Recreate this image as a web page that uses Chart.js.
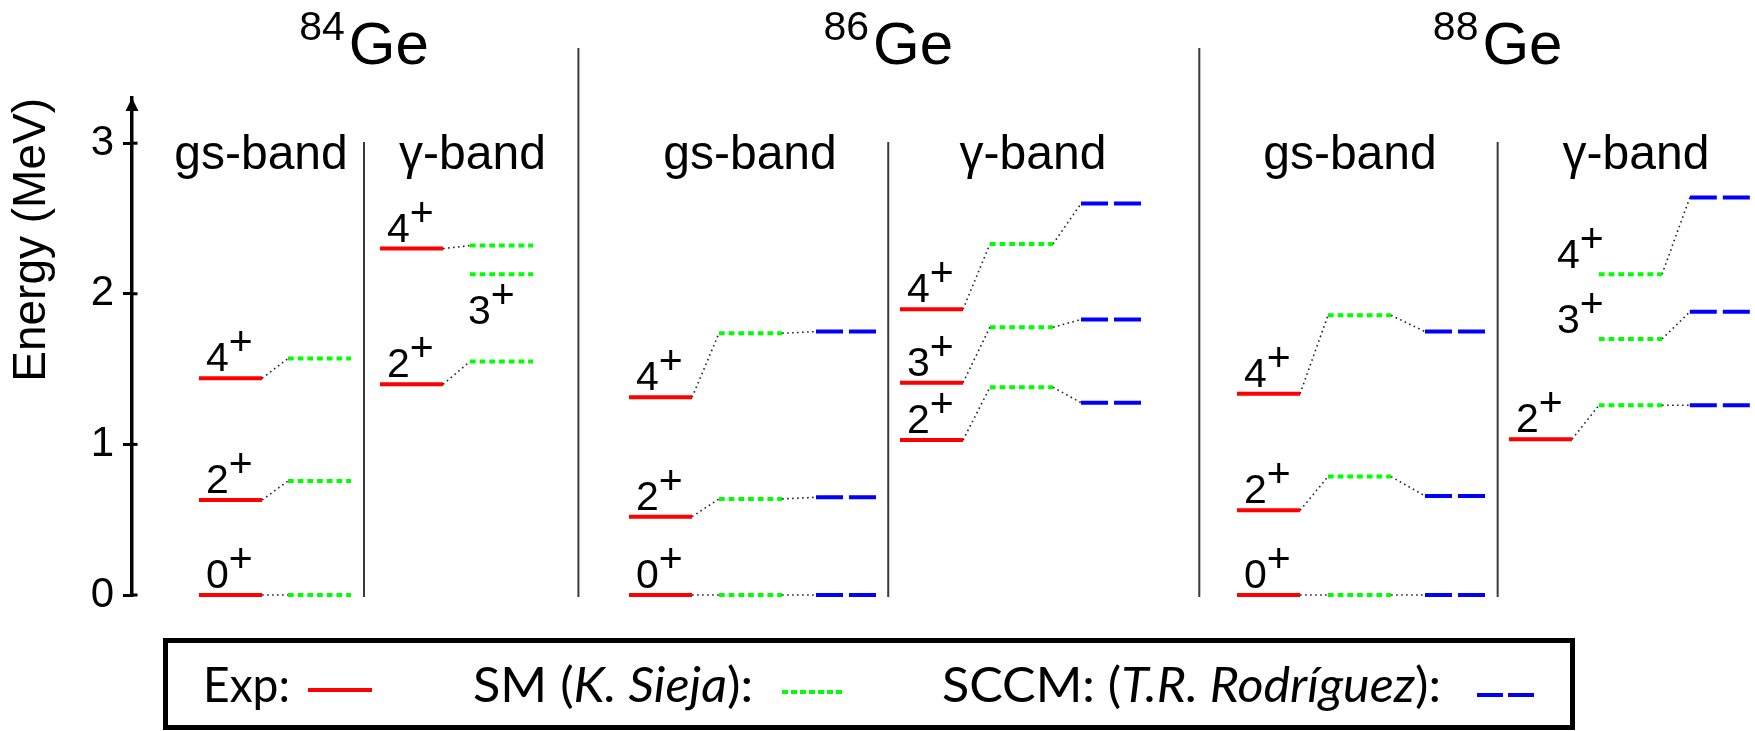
<!DOCTYPE html>
<html>
<head>
<meta charset="utf-8">
<title>Ge level schemes</title>
<script src="https://cdn.jsdelivr.net/npm/chart.js@4.4.0/dist/chart.umd.min.js"></script>
<style>
  html, body { margin: 0; padding: 0; background: #fff; }
  #wrap { width: 1755px; height: 731px; }
</style>
</head>
<body>
<div id="wrap"><canvas id="levels" width="1755" height="731"></canvas></div>
<script>
// spins of each band, energies in MeV (null = no level in that column)
const gsSpins = ['0+', '2+', '4+'];
const gammaSpins = ['2+', '3+', '4+'];
const energyTicks = [0, 1, 2, 3];
const massNumbers = ['84', '86', '88'];
const bandNames = ['gs-band', 'γ-band'];

const ge84GsExp = [0, 0.631, 1.439];
const ge84GsSM = [0, 0.757, 1.570];
const ge84GammaExp = [1.399, null, 2.300];
const ge84GammaSM = [1.550, 2.130, 2.320];

const ge86GsExp = [0, 0.520, 1.313];
const ge86GsSM = [0, 0.638, 1.738];
const ge86GsSCCM = [0, 0.649, 1.749];
const ge86GammaExp = [1.029, 1.410, 1.897];
const ge86GammaSM = [1.379, 1.778, 2.331];
const ge86GammaSCCM = [1.277, 1.829, 2.599];

const ge88GsExp = [0, 0.562, 1.337];
const ge88GsSM = [0, 0.786, 1.857];
const ge88GsSCCM = [0, 0.658, 1.749];
const ge88GammaExp = [1.034, null, null];
const ge88GammaSM = [1.260, 1.700, 2.130];
const ge88GammaSCCM = [1.260, 1.880, 2.639];

// x layout (scale units): start of the Exp / SM / SCCM columns in each band
const LEVEL_LEN = 0.70;
const bands = [
  { name: 0, spins: gsSpins,    cols: [0.743, 1.730, null],   center: 1.431,  exp: ge84GsExp,    sm: ge84GsSM,    sccm: null },
  { name: 1, spins: gammaSpins, cols: [2.750, 3.748, null],   center: 3.776,  exp: ge84GammaExp, sm: ge84GammaSM, sccm: null, orphan: 'below' },
  { name: 0, spins: gsSpins,    cols: [5.512, 6.510, 7.586],  center: 6.854,  exp: ge86GsExp,    sm: ge86GsSM,    sccm: ge86GsSCCM },
  { name: 1, spins: gammaSpins, cols: [8.517, 9.515, 10.525], center: 9.992,  exp: ge86GammaExp, sm: ge86GammaSM, sccm: ge86GammaSCCM },
  { name: 0, spins: gsSpins,    cols: [12.255, 13.264, 14.340], center: 13.508, exp: ge88GsExp,  sm: ge88GsSM,    sccm: ge88GsSCCM },
  { name: 1, spins: gammaSpins, cols: [15.271, 16.269, 17.277], center: 16.680, exp: ge88GammaExp, sm: ge88GammaSM, sccm: ge88GammaSCCM, orphan: 'left' }
];
const nucleusSeparators = [4.951, 11.837];
const bandSeparators = [2.573, 8.387, 15.146];

const FONT = '"Liberation Sans", Arial, sans-serif';
const EXP_COLOR = '#ff0000';
const SM_COLOR = '#00ff00';
const SCCM_COLOR = '#0000ff';

// one polyline per column type, broken by null points between levels
function levelPoints(key, colIndex) {
  const pts = [];
  bands.forEach(b => {
    const values = b[key];
    const x0 = b.cols[colIndex];
    if (!values || x0 == null) return;
    values.forEach(e => {
      if (e == null) return;
      pts.push({ x: x0, y: e }, { x: x0 + LEVEL_LEN, y: e }, { x: x0 + LEVEL_LEN, y: null });
    });
  });
  return pts;
}

// thin dotted links between neighbouring columns of the same level
function connectorPoints() {
  const pts = [];
  bands.forEach(b => {
    b.spins.forEach((s, i) => {
      const chain = [];
      ['exp', 'sm', 'sccm'].forEach((k, c) => {
        if (b[k] && b[k][i] != null) chain.push({ x: b.cols[c], e: b[k][i] });
      });
      for (let j = 1; j < chain.length; j++) {
        pts.push({ x: chain[j - 1].x + LEVEL_LEN, y: chain[j - 1].e }, { x: chain[j].x, y: chain[j].e }, { x: chain[j].x, y: null });
      }
    });
  });
  return pts;
}

function drawSpin(ctx, spin, x, baseline) {
  const j = spin.slice(0, -1);
  const p = spin.slice(-1);
  ctx.font = '41px ' + FONT;
  ctx.fillText(j, x, baseline);
  ctx.fillText(p, x + ctx.measureText(j).width, baseline - 16);
}

// text runs squeezed to a given width (legend)
function drawRuns(ctx, runs, x, baseline, target) {
  const fontFor = it => (it ? 'italic ' : '') + '48px Lato, sans-serif';
  let natural = 0;
  runs.forEach(r => { ctx.font = fontFor(r.italic); natural += ctx.measureText(r.text).width; });
  ctx.save();
  ctx.translate(x, baseline);
  ctx.scale(target / natural, 1);
  let pos = 0;
  runs.forEach(r => {
    ctx.font = fontFor(r.italic);
    ctx.fillText(r.text, pos, 0);
    pos += ctx.measureText(r.text).width;
  });
  ctx.restore();
}

function sample(ctx, ds, x1, x2, y) {
  ctx.save();
  ctx.strokeStyle = ds.borderColor;
  ctx.lineWidth = 4;
  ctx.setLineDash(ds.legendDash || []);
  ctx.beginPath();
  ctx.moveTo(x1, y);
  ctx.lineTo(x2, y);
  ctx.stroke();
  ctx.restore();
}

const decorations = {
  id: 'decorations',
  beforeDatasetsDraw(chart) {
    const { ctx, scales: { x, y } } = chart;
    const bottom = y.getPixelForValue(0) + 2;
    ctx.save();
    ctx.strokeStyle = '#3a3a3a';
    ctx.lineWidth = 2;
    nucleusSeparators.forEach(u => {
      const px = x.getPixelForValue(u);
      ctx.beginPath(); ctx.moveTo(px, 48); ctx.lineTo(px, bottom); ctx.stroke();
    });
    bandSeparators.forEach(u => {
      const px = x.getPixelForValue(u);
      ctx.beginPath(); ctx.moveTo(px, 142); ctx.lineTo(px, bottom); ctx.stroke();
    });
    ctx.restore();
  },
  afterDatasetsDraw(chart) {
    const { ctx, scales: { x, y } } = chart;
    ctx.save();
    ctx.fillStyle = '#000';
    ctx.textBaseline = 'alphabetic';
    ctx.textAlign = 'left';
    bands.forEach(b => {
      b.spins.forEach((s, i) => {
        if (b.exp[i] != null) {
          drawSpin(ctx, s, x.getPixelForValue(b.cols[0]) + 7, y.getPixelForValue(b.exp[i]) - 7);
        } else if (b.orphan === 'below') {
          drawSpin(ctx, s, x.getPixelForValue(b.cols[1]) - 2, y.getPixelForValue(b.sm[i]) + 50);
        } else if (b.orphan === 'left') {
          drawSpin(ctx, s, x.getPixelForValue(b.cols[1]) - 42, y.getPixelForValue(b.sm[i]) - 6);
        }
      });
    });
    ctx.restore();
  },
  afterDraw(chart) {
    const { ctx, scales: { x, y } } = chart;
    const ax = chart.chartArea.left;
    ctx.save();
    ctx.fillStyle = '#000';
    ctx.strokeStyle = '#000';

    // arrow head and inner half of the tick marks
    ctx.beginPath();
    ctx.moveTo(ax, y.top);
    ctx.lineTo(ax - 6.5, y.top + 13);
    ctx.lineTo(ax + 6.5, y.top + 13);
    ctx.closePath();
    ctx.fill();
    ctx.lineWidth = 3;
    energyTicks.forEach(v => {
      const py = y.getPixelForValue(v);
      ctx.beginPath(); ctx.moveTo(ax, py); ctx.lineTo(ax + 5.5, py); ctx.stroke();
    });

    // nucleus titles
    ctx.textBaseline = 'alphabetic';
    ctx.textAlign = 'left';
    massNumbers.forEach((a, i) => {
      const cx = x.getPixelForValue(bandSeparators[i]);
      ctx.font = '41px ' + FONT;
      const wa = ctx.measureText(a).width;
      ctx.font = '60px ' + FONT;
      const wg = ctx.measureText('Ge').width;
      const start = cx - (wa + 4 + wg) / 2;
      ctx.font = '41px ' + FONT;
      ctx.fillText(a, start, 40);
      ctx.font = '60px ' + FONT;
      ctx.fillText('Ge', start + wa + 4, 64);
    });

    // band titles
    ctx.textAlign = 'center';
    ctx.font = '48px ' + FONT;
    bands.forEach(b => ctx.fillText(bandNames[b.name], x.getPixelForValue(b.center), 169));

    // legend box
    const ds = chart.data.datasets;
    ctx.lineWidth = 5;
    ctx.strokeRect(165.5, 640.5, 1407, 87);
    ctx.textAlign = 'left';
    drawRuns(ctx, [{ text: 'Exp:' }], 203, 702, 87);
    sample(ctx, ds[0], 308, 372, 690);
    drawRuns(ctx, [{ text: 'SM (' }, { text: 'K. Sieja', italic: true }, { text: '):' }], 473, 702, 280);
    sample(ctx, ds[1], 782, 844, 692);
    drawRuns(ctx, [{ text: 'SCCM: (' }, { text: 'T.R. Rodríguez', italic: true }, { text: '):' }], 942, 702, 499);
    sample(ctx, ds[2], 1477, 1537, 695);
    ctx.restore();
  }
};

const lineBase = { pointRadius: 0, pointHoverRadius: 0, tension: 0, fill: false, spanGaps: false, clip: false, borderCapStyle: 'butt' };

new Chart(document.getElementById('levels'), {
  type: 'line',
  data: {
    datasets: [
      { ...lineBase, label: 'Exp', data: levelPoints('exp', 0), borderColor: EXP_COLOR, borderWidth: 4 },
      { ...lineBase, label: 'SM', data: levelPoints('sm', 1), borderColor: SM_COLOR, borderWidth: 4, borderDash: [5.7, 4], legendDash: [6, 3] },
      { ...lineBase, label: 'SCCM', data: levelPoints('sccm', 2), borderColor: SCCM_COLOR, borderWidth: 4, borderDash: [27, 6], legendDash: [26, 5] },
      { ...lineBase, label: 'links', data: connectorPoints(), borderColor: '#222', borderWidth: 1.6, borderDash: [1.6, 3.4] }
    ]
  },
  options: {
    responsive: false,
    animation: false,
    events: [],
    layout: { padding: { left: 0, right: 0, top: 98, bottom: 136 } },
    plugins: { legend: { display: false }, tooltip: { enabled: false } },
    scales: {
      x: { type: 'linear', display: false, min: 0, max: 18 },
      y: {
        type: 'linear',
        min: 0,
        max: 3.3,
        afterFit(s) { s.width = 132; },
        afterBuildTicks(s) { s.ticks = energyTicks.map(v => ({ value: v })); },
        ticks: { color: '#000', padding: 9, font: { family: FONT, size: 42 } },
        grid: { drawOnChartArea: false, tickLength: 9, color: '#000', lineWidth: 3 },
        border: { display: true, color: '#000', width: 3.5 },
        title: {
          display: true,
          text: 'Energy (MeV)',
          align: 'end',
          color: '#000',
          padding: { top: 5, bottom: 0 },
          font: { family: FONT, size: 46 }
        }
      }
    }
  },
  plugins: [decorations]
});
</script>
</body>
</html>
